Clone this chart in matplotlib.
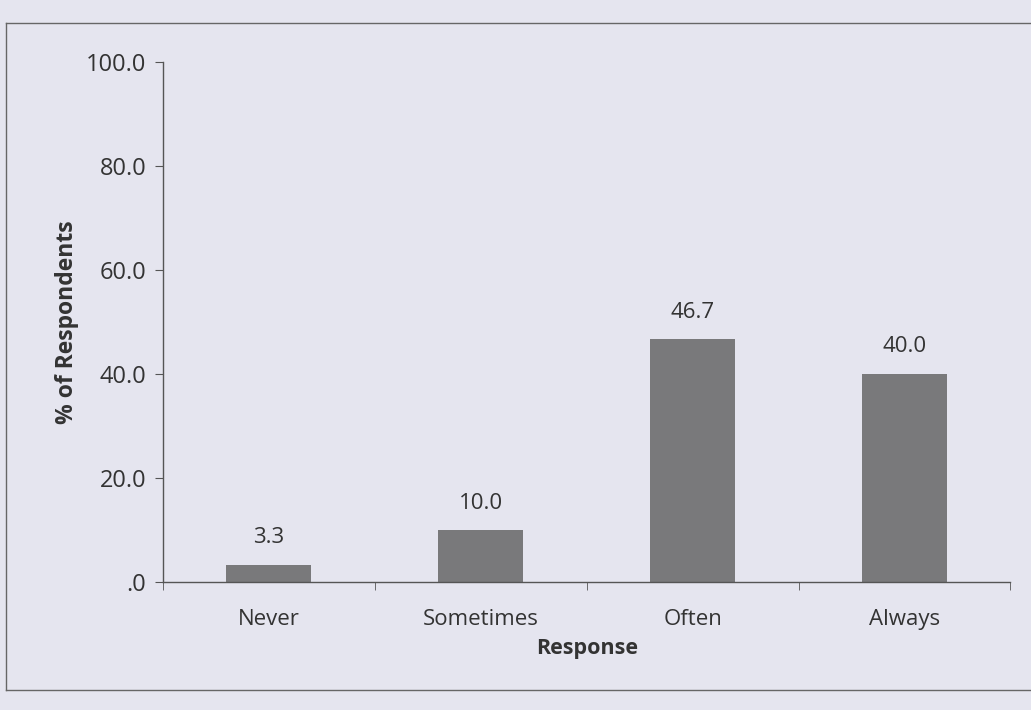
import matplotlib.pyplot as plt
from matplotlib.lines import Line2D

responses = ["Never", "Sometimes", "Often", "Always"]
percent = [3.3, 10.0, 46.7, 40.0]
yticks = [0, 20, 40, 60, 80, 100]
ytick_labels = [".0", "20.0", "40.0", "60.0", "80.0", "100.0"]

plt.rcParams['font.family'] = ['Open Sans', 'DejaVu Sans']

bg = "#e5e5ef"
fig = plt.figure(figsize=(10.31, 7.10), dpi=100, facecolor=bg)
ax = fig.add_axes([0.158, 0.18, 0.822, 0.733], facecolor=bg)

x = range(len(responses))
ax.bar(x, percent, width=0.4, color="#79797b")
for xi, v in zip(x, percent):
    ax.text(xi, v + 3.2, f"{v:.1f}", ha="center", va="bottom", fontsize=16, color="#333333")

ax.set_xlim(-0.5, len(responses) - 0.5)
ax.set_ylim(0, 100)
ax.set_yticks(yticks)
ax.set_yticklabels(ytick_labels, fontsize=17, color="#333333")
ax.set_xticks(x)
ax.set_xticklabels(responses, fontsize=16, color="#333333")
ax.set_xticks([i - 0.5 for i in range(len(responses) + 1)], minor=True)
ax.tick_params(axis="x", which="major", length=0, pad=19)
ax.tick_params(axis="x", which="minor", length=6, direction="out", color="#555555")
ax.tick_params(axis="y", length=6, color="#555555", pad=6)

for side in ["top", "right"]:
    ax.spines[side].set_visible(False)
for side in ["left", "bottom"]:
    ax.spines[side].set_color("#555555")
    ax.spines[side].set_linewidth(1.0)

ax.set_xlabel("Response", fontsize=15.5, fontweight="bold", color="#333333", labelpad=6)
ax.set_ylabel("% of Respondents", fontsize=16.5, fontweight="bold", color="#333333", labelpad=5)

# outer box around the chart
frame = dict(color="#666666", linewidth=1.0, transform=fig.transFigure)
fig.add_artist(Line2D([0.006, 1.0], [0.968, 0.968], **frame))
fig.add_artist(Line2D([0.006, 1.0], [0.028, 0.028], **frame))
fig.add_artist(Line2D([0.006, 0.006], [0.028, 0.968], **frame))

fig.savefig("out.png", dpi=100, facecolor=bg)
